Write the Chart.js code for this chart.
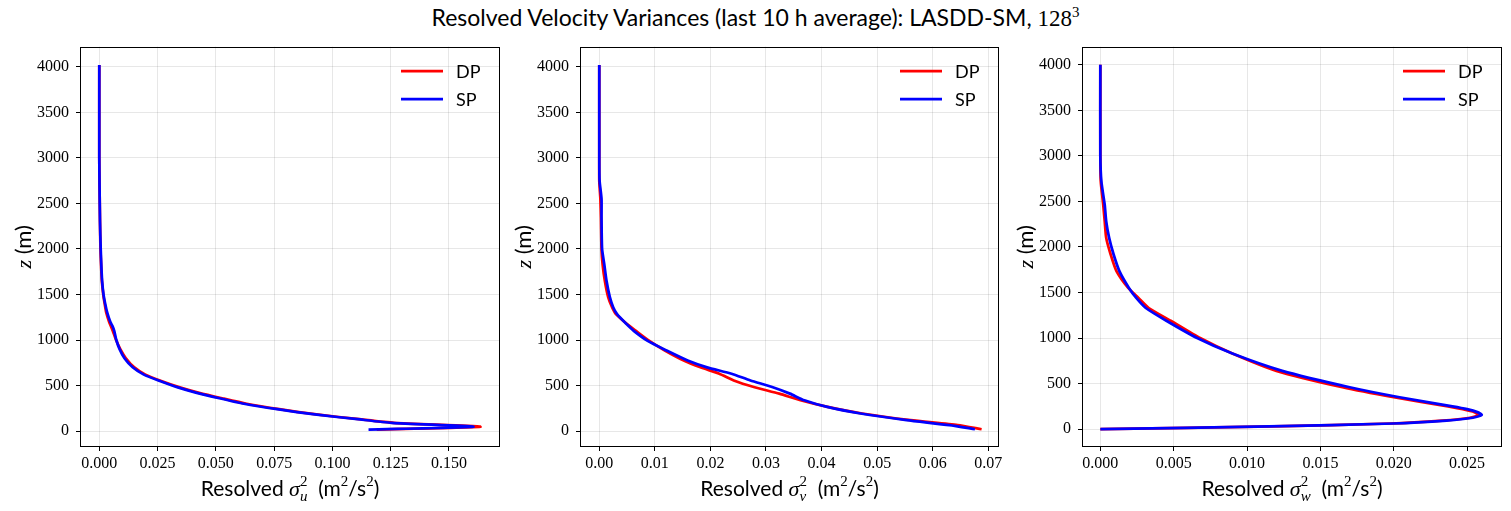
<!DOCTYPE html>
<html>
<head>
<meta charset="utf-8">
<script src="https://cdn.jsdelivr.net/npm/chart.js@4.4.0/dist/chart.umd.min.js"></script>
<style>
body{margin:0;background:#fff;width:1511px;height:511px;position:relative;overflow:hidden}
#titulo{position:absolute;top:4px;left:0;width:1511px;text-align:center;font:23px/27px Lato,sans-serif;color:#000}
#titulo .num{font-family:"Liberation Serif",serif}
#titulo sup{font-size:15px;line-height:0}
.panel{position:absolute;top:30px;height:481px}
.panel canvas{display:block}
</style>
</head>
<body>
<div id="titulo">Resolved Velocity Variances (last 10 h average): LASDD-SM, <span class="num">128<sup>3</sup></span></div>
<div class="panel" style="left:0;width:510px"><canvas id="g1"></canvas></div>
<div class="panel" style="left:510px;width:500px"><canvas id="g2"></canvas></div>
<div class="panel" style="left:1010px;width:501px"><canvas id="g3"></canvas></div>
<script>
// alturas (m) y varianzas
const alturasU = [4020, 3000, 2700, 2300, 2000, 1800, 1650, 1500, 1400, 1300, 1200, 1150, 1100, 1000, 900, 800, 700, 620, 550, 480, 420, 360, 300, 240, 180, 130, 90, 47, 16];
const uDP = [0, 0, 0.0001, 0.0003, 0.0005, 0.0008, 0.0011, 0.0017, 0.0023, 0.0030, 0.0042, 0.0050, 0.0058, 0.0072, 0.0090, 0.0114, 0.0150, 0.0198, 0.0266, 0.0345, 0.0428, 0.0527, 0.0632, 0.0772, 0.0940, 0.1115, 0.1265, 0.1635, 0.1190];
const uSP = [0, 0, 0.0001, 0.0003, 0.0006, 0.0009, 0.0012, 0.0018, 0.0025, 0.0034, 0.0047, 0.0057, 0.0064, 0.0073, 0.0087, 0.0108, 0.0143, 0.0191, 0.0260, 0.0337, 0.0418, 0.0515, 0.0620, 0.0763, 0.0933, 0.1108, 0.1255, 0.1605, 0.1155];

const alturasV = [4020, 3000, 2750, 2550, 2350, 2000, 1830, 1650, 1470, 1360, 1284, 1175, 1100, 990, 885, 775, 700, 630, 556, 484, 411, 338, 265, 193, 120, 65, 20];
const vDP = [0, 0, 0, 0.0002, 0.0003, 0.0004, 0.0006, 0.0010, 0.0016, 0.0023, 0.0030, 0.0050, 0.0066, 0.0090, 0.0118, 0.0152, 0.0182, 0.0216, 0.0242, 0.0278, 0.0324, 0.0362, 0.0411, 0.0473, 0.0560, 0.0645, 0.0688];
const vSP = [0, 0, 0.00005, 0.0004, 0.0004, 0.0005, 0.0009, 0.0013, 0.0019, 0.0025, 0.0032, 0.0049, 0.0062, 0.0087, 0.0121, 0.0159, 0.0194, 0.0238, 0.0272, 0.0311, 0.0343, 0.0369, 0.0410, 0.0470, 0.0553, 0.0630, 0.0676];

const alturasW = [4000, 3000, 2720, 2460, 2280, 2100, 1920, 1735, 1550, 1440, 1330, 1190, 1000, 830, 640, 460, 350, 250, 219, 187, 156, 125, 94, 62, 31, 0];
const wDP = [0, 0, 0.00003, 0.0002, 0.0003, 0.0004, 0.0007, 0.0011, 0.0019, 0.0026, 0.0033, 0.0048, 0.0068, 0.0090, 0.0120, 0.0165, 0.0200, 0.0237, 0.0247, 0.0255, 0.0258, 0.0252, 0.0233, 0.0198, 0.0118, 0];
const wSP = [0, 0, 0.00007, 0.0003, 0.0004, 0.0006, 0.0009, 0.0013, 0.00195, 0.00245, 0.0031, 0.0045, 0.0066, 0.0090, 0.0124, 0.0170, 0.0204, 0.0240, 0.0250, 0.0257, 0.0260, 0.0254, 0.0236, 0.0200, 0.0115, 0];

const ticksZ = [0, 500, 1000, 1500, 2000, 2500, 3000, 3500, 4000];
const ticksU = [0, 0.025, 0.05, 0.075, 0.1, 0.125, 0.15];
const ticksV = [0, 0.01, 0.02, 0.03, 0.04, 0.05, 0.06, 0.07];
const ticksW = [0, 0.005, 0.01, 0.015, 0.02, 0.025];

const SANS = 'Lato, "Open Sans", sans-serif';
const SERIF = '"Liberation Serif", serif';

// dibuja texto con partes de distinta fuente, centrado en x
function textoRico(ctx, partes, x, y){
    let total = 0;
    partes.forEach(p => {
        ctx.font = p.f;
        p.w = ctx.measureText(p.t).width;
        if(p.sub){ ctx.font = p.sub.f; p.w = Math.max(p.w, ctx.measureText(p.sub.t).width); }
        total += p.w;
    });
    let cx = x - total / 2;
    partes.forEach(p => {
        ctx.font = p.f;
        ctx.fillText(p.t, cx, y + (p.dy || 0));
        if(p.sub){ ctx.font = p.sub.f; ctx.fillText(p.sub.t, cx, y + p.sub.dy); }
        cx += p.w;
    });
}

const marco = {
    id: 'marco',
    afterDraw(chart){
        const {ctx, chartArea: a} = chart;
        const letra = chart.options.plugins.marco.letra;
        ctx.save();
        ctx.strokeStyle = '#000';
        ctx.lineWidth = 1;
        ctx.strokeRect(Math.round(a.left) + 0.5, Math.round(a.top) + 0.5, Math.round(a.right - a.left) - 1, Math.round(a.bottom - a.top) - 1);

        // leyenda
        chart.data.datasets.forEach((d, i) => {
            const y = a.top + 24.5 + i * 28;
            ctx.strokeStyle = d.borderColor;
            ctx.lineWidth = 2.75;
            ctx.beginPath();
            ctx.moveTo(a.right - 99, y);
            ctx.lineTo(a.right - 57, y);
            ctx.stroke();
            ctx.fillStyle = '#000';
            ctx.font = '18px ' + SANS;
            ctx.textAlign = 'left';
            ctx.textBaseline = 'middle';
            ctx.fillText(d.label, a.right - 44, y + 1);
        });

        // titulos de ejes
        ctx.fillStyle = '#000';
        ctx.textAlign = 'left';
        ctx.textBaseline = 'alphabetic';
        const sup = '15px ' + SERIF;
        textoRico(ctx, [
            {t: 'Resolved ', f: '21px ' + SANS},
            {t: 'σ', f: 'italic 22px ' + SERIF},
            {t: '2', f: sup, dy: -10, sub: {t: letra, f: 'italic 15px ' + SERIF, dy: 5}},
            {t: '  (m', f: '21px ' + SANS},
            {t: '2', f: sup, dy: -10},
            {t: '/s', f: '21px ' + SANS},
            {t: '2', f: sup, dy: -10},
            {t: ')', f: '21px ' + SANS}
        ], (a.left + a.right) / 2, a.bottom + 49);

        ctx.translate(a.left - 56, (a.top + a.bottom) / 2);
        ctx.rotate(-Math.PI / 2);
        textoRico(ctx, [
            {t: 'z', f: 'italic 22px ' + SERIF},
            {t: ' (m)', f: '22px ' + SANS}
        ], 0, 7);
        ctx.restore();
    }
};

function crearPanel(p){
    const serie = (vals, alturas) => alturas.map((h, i) => ({x: vals[i], y: h}));
    const rejilla = {color: 'rgba(0,0,0,0.12)', lineWidth: 0.8, tickColor: '#000', tickLength: 4, tickWidth: 1};
    new Chart(document.getElementById(p.id), {
        type: 'scatter',
        data: {
            datasets: [
                {label: 'DP', data: serie(p.dp, p.z), borderColor: '#ff0000', order: 1},
                {label: 'SP', data: serie(p.sp, p.z), borderColor: '#0000ff', order: 0}
            ].map(d => Object.assign(d, {showLine: true, borderWidth: 2.75, pointRadius: 0, tension: 0.2, fill: false}))
        },
        options: {
            responsive: true,
            maintainAspectRatio: false,
            animation: false,
            layout: {padding: {top: 14, right: p.der, left: 0, bottom: 0}},
            plugins: {legend: {display: false}, tooltip: {enabled: false}, marco: {letra: p.letra}},
            scales: {
                x: {
                    type: 'linear', min: p.xmin, max: p.xmax,
                    afterBuildTicks: s => { s.ticks = p.ticks.map(v => ({value: v})); },
                    afterFit: s => { s.height = 64; },
                    ticks: {autoSkip: false, maxRotation: 0, padding: 3, color: '#000',
                        font: {family: SERIF, size: 16}, callback: v => Number(v).toFixed(p.dec)},
                    grid: rejilla,
                    border: {display: false}
                },
                y: {
                    type: 'linear', min: p.ymin, max: p.ymax,
                    afterBuildTicks: s => { s.ticks = ticksZ.map(v => ({value: v})); },
                    afterFit: s => { s.width = p.anchoY; },
                    ticks: {autoSkip: false, padding: 7, color: '#000',
                        font: {family: SERIF, size: 16}, callback: v => String(v)},
                    grid: rejilla,
                    border: {display: false}
                }
            }
        },
        plugins: [marco]
    });
}

crearPanel({id: 'g1', z: alturasU, dp: uDP, sp: uSP, ticks: ticksU, dec: 3, letra: 'u',
    xmin: -0.00828, xmax: 0.1719, ymin: -175, ymax: 4222, anchoY: 80, der: 10});
crearPanel({id: 'g2', z: alturasV, dp: vDP, sp: vSP, ticks: ticksV, dec: 2, letra: 'v',
    xmin: -0.00347, xmax: 0.07193, ymin: -175, ymax: 4222, anchoY: 70, der: 11});
crearPanel({id: 'g3', z: alturasW, dp: wDP, sp: wSP, ticks: ticksW, dec: 3, letra: 'w',
    xmin: -0.00125, xmax: 0.02738, ymin: -196, ymax: 4200, anchoY: 72, der: 9});
</script>
</body>
</html>
